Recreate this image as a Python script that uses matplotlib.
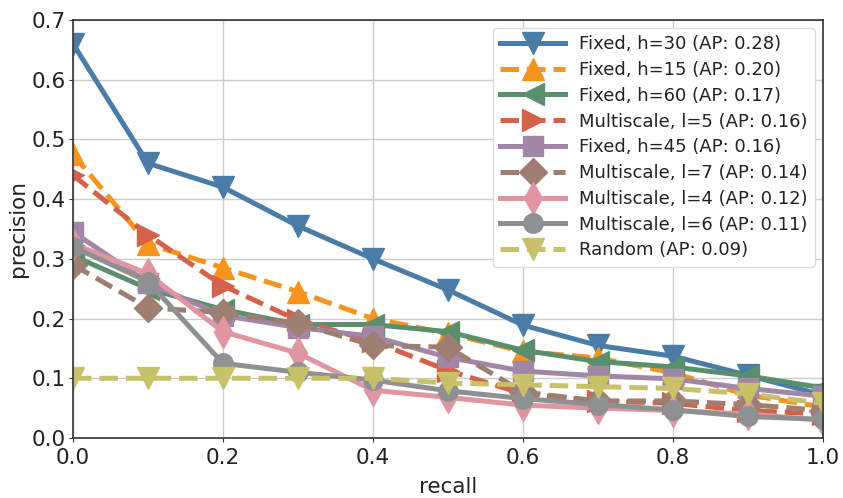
import numpy as np
import matplotlib
matplotlib.use("Agg")
import matplotlib.pyplot as plt

# recall levels
recall = [0.0, 0.1, 0.2, 0.3, 0.4, 0.5, 0.6, 0.7, 0.8, 0.9, 1.0]

# precision per method
fixed_h30 = [0.66, 0.46, 0.42, 0.355, 0.30, 0.248, 0.189, 0.155, 0.137, 0.105, 0.072]
fixed_h15 = [0.475, 0.325, 0.285, 0.245, 0.20, 0.175, 0.145, 0.134, 0.109, 0.072, 0.052]
fixed_h60 = [0.305, 0.25, 0.215, 0.19, 0.19, 0.178, 0.147, 0.128, 0.119, 0.104, 0.084]
multi_l5 = [0.44, 0.34, 0.255, 0.197, 0.162, 0.113, 0.074, 0.062, 0.058, 0.046, 0.040]
fixed_h45 = [0.345, 0.26, 0.205, 0.185, 0.17, 0.135, 0.112, 0.104, 0.099, 0.083, 0.070]
multi_l7 = [0.29, 0.218, 0.21, 0.192, 0.155, 0.152, 0.077, 0.062, 0.062, 0.056, 0.046]
multi_l4 = [0.325, 0.275, 0.178, 0.142, 0.08, 0.068, 0.055, 0.05, 0.046, 0.040, 0.030]
multi_l6 = [0.32, 0.262, 0.125, 0.11, 0.097, 0.079, 0.066, 0.056, 0.047, 0.036, 0.031]
random_bl = [0.10, 0.10, 0.10, 0.10, 0.10, 0.092, 0.089, 0.086, 0.083, 0.074, 0.058]

labels = [
    "Fixed, h=30 (AP: 0.28)",
    "Fixed, h=15 (AP: 0.20)",
    "Fixed, h=60 (AP: 0.17)",
    "Multiscale, l=5 (AP: 0.16)",
    "Fixed, h=45 (AP: 0.16)",
    "Multiscale, l=7 (AP: 0.14)",
    "Multiscale, l=4 (AP: 0.12)",
    "Multiscale, l=6 (AP: 0.11)",
    "Random (AP: 0.09)",
]
series = [fixed_h30, fixed_h15, fixed_h60, multi_l5, fixed_h45,
          multi_l7, multi_l4, multi_l6, random_bl]
colors = ["#4a7ca8", "#f7941e", "#5a8f6d", "#d4624a", "#a286a8",
          "#9d7e70", "#e096a2", "#8f9092", "#c9c06a"]
markers = ["v", "^", "<", ">", "s", "D", "d", "o", "v"]
styles = ["-", "--", "-", "--", "-", "--", "-", "-", "--"]

fig = plt.figure(figsize=(8.43, 4.98), dpi=100)
ax = fig.add_axes([0.0866, 0.1205, 0.8894, 0.8395])

for y, lab, c, m, ls in zip(series, labels, colors, markers, styles):
    ms = 14 if m in ("s", "D", "o") else 16
    ax.plot(recall, y, linestyle=ls, marker=m, color=c, lw=3.6,
            markersize=ms, label=lab)

ax.set_xlim(0, 1.0)
ax.set_ylim(0, 0.7)
ax.set_xticks(np.arange(0, 1.01, 0.2))
ax.set_yticks(np.arange(0, 0.71, 0.1))
ax.set_xticklabels([f"{v:.1f}" for v in np.arange(0, 1.01, 0.2)])
ax.set_yticklabels([f"{v:.1f}" for v in np.arange(0, 0.71, 0.1)])
ax.tick_params(labelsize=15.5, length=3, pad=2, color="#333333",
               labelcolor="#222222")
ax.tick_params(axis="x", pad=4)
ax.grid(True, color="#cccccc", lw=1.0)
ax.set_axisbelow(True)
for sp in ax.spines.values():
    sp.set_color("#333333")
    sp.set_linewidth(1.2)

ax.set_xlabel("recall", fontsize=15.5, color="#222222", labelpad=7)
ax.set_ylabel("precision", fontsize=15.5, color="#222222", labelpad=3)

leg = ax.legend(loc="upper right", fontsize=13, handlelength=3.6,
                labelspacing=0.43, borderpad=0.4, framealpha=1.0,
                edgecolor="#dddddd", fancybox=True, handletextpad=0.75,
                borderaxespad=0.45)
for t in leg.get_texts():
    t.set_color("#222222")

fig.savefig("out.png", dpi=100)
